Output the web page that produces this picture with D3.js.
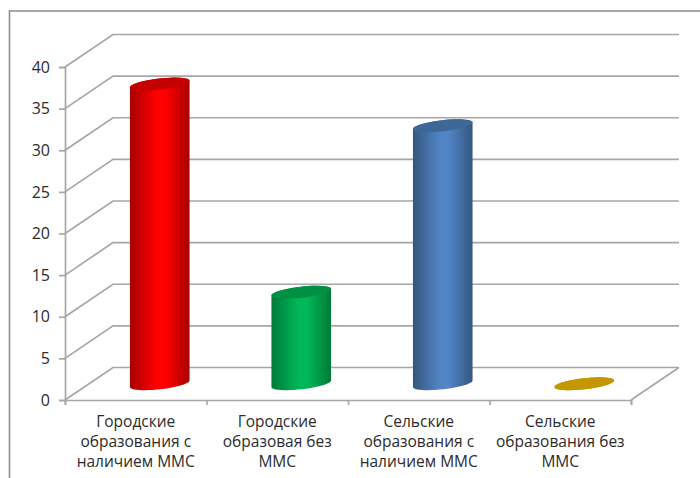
<!DOCTYPE html>
<html><head><meta charset="utf-8">
<script src="https://cdnjs.cloudflare.com/ajax/libs/d3/7.8.5/d3.min.js"></script>
<style>html,body{margin:0;padding:0;background:#fff}svg{display:block}</style>
</head><body><svg id="c" width="700" height="478"></svg>
<script>
const categories = [["Городские","образования с","наличием ММС"],["Городские","образовая без","ММС"],["Сельские","образования с","наличием ММС"],["Сельские","образования без","ММС"]];
const values = [36, 11, 31, 0];
const tickValues = [0,5,10,15,20,25,30,35,40];
const sideEdge = ["#a80000","#007a38","#34577f","#a07a00"];
const sideMid = ["#ff0000","#00b858","#5285c6","#c49600"];
const capFill = ["#c40000","#009044","#3c6796","#c49600"];

const svg = d3.select("#c");
const font = "'Open Sans','Noto Sans',sans-serif", txt = "#2b2b2b", grid = "#a6a6a6";
const x = d3.scaleBand().domain(d3.range(categories.length)).range([65,631]);
const y = d3.scaleLinear().domain([0,40]).range([400,67]);
const dx = 48, dy = -32.5;

// frame
svg.append("path").attr("d","M9.5,478V11H700").attr("fill","none").attr("stroke","#8c8c8c").attr("stroke-width",1.6);

// grid walls
const g = svg.append("g").attr("fill","none").attr("stroke",grid).attr("stroke-width",1.7);
g.selectAll("path.g").data(tickValues).join("path").attr("class","g")
 .attr("d",v=>`M${x.range()[0]},${y(v)}L${x.range()[0]+dx},${y(v)+dy}H${x.range()[1]+dx}`);
g.append("path").attr("d",`M${x.range()[1]},${y(0)}L${x.range()[1]+dx},${y(0)+dy}`);

// axes
const la = svg.append("g").attr("transform",`translate(${x.range()[0]},0)`)
 .call(d3.axisLeft(y).tickValues(tickValues).tickSize(6).tickPadding(9).tickFormat(d3.format("d")));
const ba = svg.append("g").attr("transform",`translate(0,${y(0)})`)
 .call(d3.axisBottom(d3.scaleLinear().domain([0,4]).range(x.range())).ticks(4).tickSize(5).tickFormat(""));
[la,ba].forEach(a=>{a.selectAll("path,line").attr("stroke",grid).attr("stroke-width",1.7);});
la.selectAll("text").attr("font-family",font).attr("font-size",16).attr("fill",txt);

// category labels
svg.append("g").selectAll("text").data(categories).join("text")
 .attr("text-anchor","middle").attr("font-family",font).attr("font-size",15.5).attr("fill",txt)
 .each(function(lines,i){
   d3.select(this).selectAll("tspan").data(lines).join("tspan")
    .attr("x",x(i)+x.bandwidth()/2).attr("y",(d,k)=>427+k*20).text(d=>d);
 });

// gradients
const defs = svg.append("defs");
values.forEach((v,i)=>{
  const gr = defs.append("linearGradient").attr("id","b"+i);
  [[0,sideEdge[i]],[0.45,sideMid[i]],[0.6,sideMid[i]],[1,sideEdge[i]]].forEach(s=>gr.append("stop").attr("offset",s[0]).attr("stop-color",s[1]));
});

// cylinders
const rx = 30, ry = 5.5, tilt = -6.5 * Math.PI / 180;
const cx = i=>x(i)+x.bandwidth()/2+dx/2;
const cyOf = d=>y(d)+dy/2;
const rim = (c,m,a)=>[c+rx*Math.cos(a)*Math.cos(tilt)-ry*Math.sin(a)*Math.sin(tilt), m+rx*Math.cos(a)*Math.sin(tilt)+ry*Math.sin(a)*Math.cos(tilt)];
const steps = d3.range(0,25).map(k=>k/24*Math.PI);
const line = d3.line();
const bars = svg.append("g").selectAll("g").data(values).join("g");
bars.append("path").attr("fill",(d,i)=>`url(#b${i})`)
 .attr("d",(d,i)=>{
   const c=cx(i), t=cyOf(d), b=cyOf(0);
   return line([...steps.map(a=>rim(c,t,Math.PI+a)),...steps.map(a=>rim(c,b,a))])+"Z";
 });
bars.append("ellipse").attr("rx",rx).attr("ry",ry)
 .attr("transform",(d,i)=>`translate(${cx(i)},${cyOf(d)}) rotate(${tilt*180/Math.PI})`)
 .attr("fill",(d,i)=>capFill[i]);
</script></body></html>
